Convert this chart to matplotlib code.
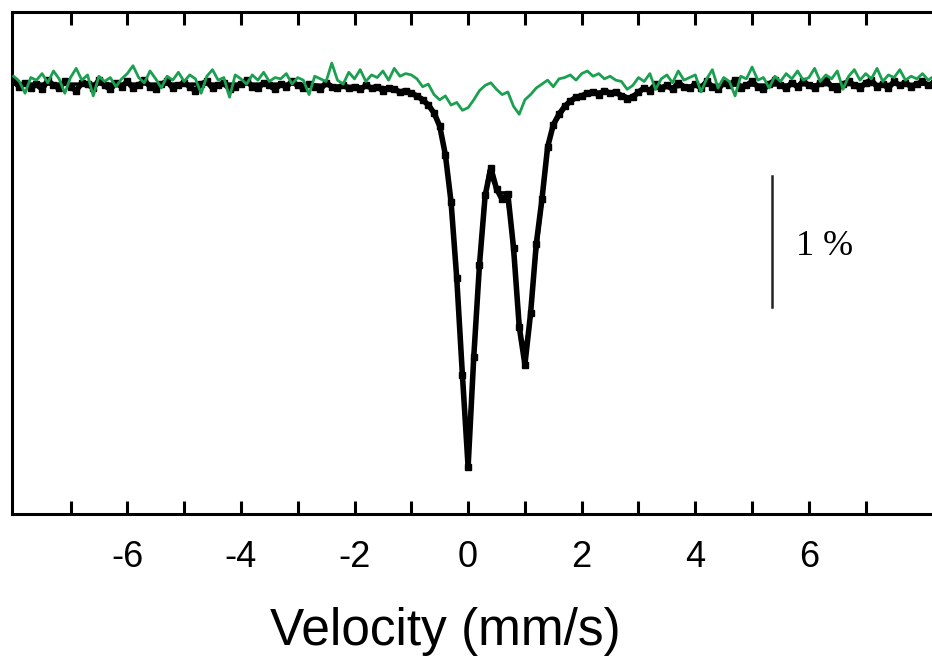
import numpy as np
import matplotlib
matplotlib.use("Agg")
import matplotlib.pyplot as plt

# velocity channels (mm/s), 0.1 mm/s steps
vel = np.round(np.arange(-8.0, 8.45, 0.1), 2)

# measured spectrum, relative transmission (%)
data_t = [
    100.02, 99.98, 100.01, 99.97, 100.00, 99.96, 100.03, 99.99, 99.97, 100.02,
    99.98, 99.95, 100.01, 100.00, 99.97, 100.03, 99.99, 99.96, 100.01, 99.98,
    100.02, 99.97, 99.99, 100.03, 99.98, 99.96, 100.00, 100.02, 99.97, 99.99,
    100.01, 99.98, 99.95, 100.00, 100.02, 99.97, 99.99, 100.01, 99.96, 99.98,
    100.00, 100.03, 99.98, 99.97, 100.01, 99.99, 99.96, 100.00, 99.98, 100.02,
    99.99, 99.97, 100.00, 99.98, 99.96, 100.01, 99.98, 99.97, 99.99, 99.97,
    99.98, 99.96, 99.99, 99.97, 99.98, 99.95, 99.97, 99.96, 99.94, 99.95,
    99.93, 99.91, 99.88, 99.84, 99.78, 99.68, 99.46, 99.10, 98.52, 97.78,
    97.08, 97.92, 98.62, 99.15, 99.36, 99.20, 99.12, 99.16, 98.75, 98.15,
    97.86, 98.25, 98.78, 99.12, 99.52, 99.69, 99.77, 99.83, 99.87, 99.90,
    99.91, 99.93, 99.94, 99.92, 99.95, 99.93, 99.94, 99.91, 99.89, 99.90,
    99.94, 99.97, 99.95, 100.00, 99.97, 99.99, 99.96, 100.01, 99.98, 99.97,
    100.00, 99.97, 100.02, 99.98, 99.96, 100.01, 99.99, 100.03, 99.97, 99.99,
    100.02, 99.98, 99.96, 100.00, 100.03, 99.99, 99.97, 100.01, 99.98, 100.02,
    99.99, 99.97, 100.01, 100.03, 99.98, 99.96, 100.00, 100.02, 99.99, 99.97,
    100.01, 100.03, 99.98, 100.00, 99.97, 100.02, 99.99, 100.01, 99.98, 100.00,
    100.02, 99.99, 100.01, 99.98, 100.00,
]

# difference spectrum (green)
green_t = [
    100.06, 100.02, 99.93, 100.05, 100.03, 100.08, 100.01, 100.10, 100.04, 99.93,
    100.05, 100.12, 100.03, 100.07, 99.91, 100.06, 100.02, 100.05, 99.98, 100.04,
    100.08, 100.14, 100.05, 100.01, 100.10, 100.04, 99.97, 100.06, 100.03, 100.09,
    100.02, 100.07, 100.04, 99.93, 100.06, 100.11, 100.03, 100.05, 99.90, 100.07,
    100.04, 100.00, 100.07, 100.03, 100.09, 100.02, 100.05, 100.04, 100.08, 100.00,
    100.05, 100.03, 99.92, 100.06, 100.04, 100.02, 100.16, 100.03, 100.00, 100.09,
    100.04, 100.11, 100.02, 100.07, 100.05, 100.10, 100.03, 100.12, 100.06, 100.08,
    100.07, 100.04, 99.98, 100.00, 99.92, 99.88, 99.91, 99.84, 99.86, 99.80,
    99.82, 99.88, 99.95, 99.99, 100.01, 99.96, 99.92, 99.94, 99.83, 99.77,
    99.88, 99.92, 99.97, 100.00, 100.03, 99.98, 100.04, 100.05, 100.07, 100.03,
    100.08, 100.10, 100.06, 100.08, 100.04, 100.06, 100.03, 100.02, 99.96, 99.99,
    100.05, 100.02, 100.08, 99.96, 100.04, 100.07, 100.01, 100.10, 100.03, 100.05,
    100.07, 99.94, 100.04, 100.11, 99.97, 100.05, 100.02, 99.91, 100.06, 100.04,
    100.13, 100.03, 100.05, 99.97, 100.06, 100.02, 100.08, 100.04, 100.10, 100.03,
    100.05, 100.12, 100.02, 100.07, 100.04, 100.10, 99.96, 100.06, 100.11, 100.03,
    100.08, 100.04, 100.12, 100.02, 100.07, 100.05, 100.11, 100.03, 100.06, 100.04,
    100.08, 100.03, 100.06, 100.04, 100.07,
]

# fitted curve
fit_v = [-8.0, -3.0, -2.0, -1.5, -1.0, -0.8, -0.65, -0.5, -0.4, -0.3, -0.2,
         -0.1, -0.05, -0.02, 0.02, 0.05, 0.1, 0.2, 0.28, 0.37, 0.45, 0.55,
         0.67, 0.75, 0.85, 0.93, 0.99, 1.06, 1.17, 1.3, 1.41, 1.52, 1.77,
         2.12, 2.58, 2.83, 3.1, 4.0, 8.5]
fit_t = [100.0, 100.0, 99.98, 99.975, 99.93, 99.89, 99.82, 99.68, 99.47, 99.1,
         98.53, 97.8, 97.45, 97.32, 97.38, 97.55, 97.95, 98.6, 99.1, 99.34,
         99.25, 99.17, 99.17, 98.95, 98.45, 98.07, 97.98, 98.1, 98.6, 99.1,
         99.55, 99.7, 99.86, 99.94, 99.94, 99.9, 99.96, 99.99, 100.0]

xticks_major = [-6, -4, -2, 0, 2, 4, 6]
xticks_minor = [-7, -5, -3, -1, 1, 3, 5, 7]

plt.rcParams['font.family'] = ['Liberation Sans', 'DejaVu Sans']

fig = plt.figure(figsize=(9.32, 6.62), dpi=100)
ax = fig.add_axes([12 / 932, 148 / 662, 1.0074, 502 / 662])

ax.plot(vel, data_t, color='black', lw=4, marker='s', ms=4.5, zorder=2)
ax.plot(fit_v, fit_t, color='black', lw=2.5, zorder=3)
ax.plot(vel, green_t, color='#1aa050', lw=2, zorder=4)

# 1 % scale bar
ax.plot([5.35, 5.35], [99.30, 98.30], color='#222222', lw=1.8)
ax.text(5.78, 98.76, '1 %', family=['Liberation Serif', 'DejaVu Serif'],
        fontsize=26, ha='left', va='center')

ax.set_xlim(-8.03, 8.5)
ax.set_ylim(96.72, 100.55)
ax.set_yticks([])
ax.set_xticks(xticks_major)
ax.set_xticklabels([str(t) for t in xticks_major])
ax.set_xticks(xticks_minor, minor=True)
ax.tick_params(axis='x', which='both', direction='in', top=True, bottom=True,
               length=9.5, width=2.2, labelsize=26, pad=19)
for s in ax.spines.values():
    s.set_linewidth(2.2)

ax.set_xlabel('Velocity (mm/s)', fontsize=37)
ax.xaxis.set_label_coords(0.461, -0.235)
ax.xaxis.label.set_va('center')

fig.savefig('out.png', dpi=100)
